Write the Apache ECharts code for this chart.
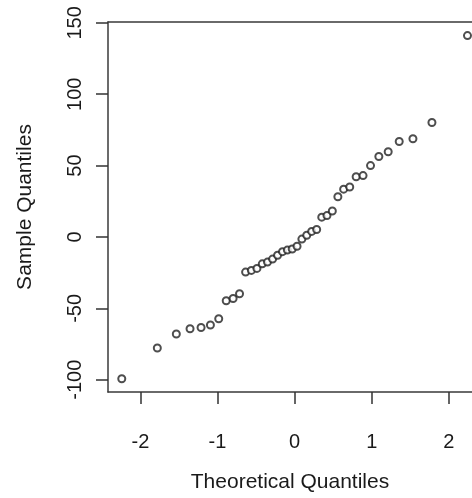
<!DOCTYPE html>
<html>
<head>
<meta charset="utf-8">
<script src="https://cdn.jsdelivr.net/npm/echarts@6/dist/echarts.min.js"></script>
<style>
  html, body { margin: 0; padding: 0; background: #fff; }
  #chart { width: 472px; height: 498px; }
</style>
</head>
<body>
<div id="chart"></div>
<script>
// theoretical normal quantiles (n = 40) and the sorted sample values
const theoQ = [
  -2.2414, -1.7805, -1.5341, -1.3562, -1.2133, -1.0920, -0.9842, -0.8871, -0.7977, -0.7144,
  -0.6357, -0.5607, -0.4888, -0.4193, -0.3518, -0.2858, -0.2211, -0.1573, -0.0941, -0.0313,
  0.0313, 0.0941, 0.1573, 0.2211, 0.2858, 0.3518, 0.4193, 0.4888, 0.5607, 0.6357,
  0.7144, 0.7977, 0.8871, 0.9842, 1.0920, 1.2133, 1.3562, 1.5341, 1.7805, 2.2414
];
const sampleQ = [
  -99.3, -77.8, -68.0, -64.3, -63.4, -61.7, -57.3, -44.7, -43.1, -39.8,
  -24.6, -23.4, -22.0, -18.8, -17.6, -15.5, -12.8, -10.3, -9.2, -8.4,
  -6.5, -1.5, 1.2, 3.9, 5.2, 13.9, 15.0, 18.2, 28.2, 33.5,
  35.0, 42.2, 43.0, 50.0, 56.4, 59.7, 66.9, 68.8, 80.2, 141.1
];
const xTicks = [-2, -1, 0, 1, 2];
const yTicks = [-100, -50, 0, 50, 100, 150];

const points = theoQ.map((q, i) => [q, sampleQ[i]]);
const textColor = '#1a1a1a';
const font = 'Liberation Sans, Arial, sans-serif';
const boxLine = { color: '#3a3a3a', width: 1.5 };

// the plot box runs past the right edge of the picture, so x max is where the canvas ends
const xMin = -2.42, xMax = 2.30;

const chart = echarts.init(document.getElementById('chart'));
chart.setOption({
  animation: false,
  grid: { left: 108, right: 0, top: 22, bottom: 105 },
  xAxis: [{
    type: 'value', min: xMin, max: xMax,
    splitLine: { show: false },
    axisLine: { show: true, onZero: false, lineStyle: boxLine },
    axisTick: { show: true, length: 12, customValues: xTicks, lineStyle: { color: '#333', width: 1.5 } },
    axisLabel: { customValues: xTicks, margin: 40, color: textColor, fontSize: 20, fontFamily: font },
    name: 'Theoretical Quantiles', nameLocation: 'middle', nameGap: 80,
    nameTextStyle: { color: textColor, fontSize: 21, fontFamily: font }
  }, {
    // top edge of the box
    type: 'value', position: 'top', min: xMin, max: xMax,
    splitLine: { show: false },
    axisLine: { show: true, onZero: false, lineStyle: boxLine },
    axisTick: { show: false },
    axisLabel: { show: false }
  }],
  yAxis: {
    type: 'value', min: -108.6, max: 150.6,
    splitLine: { show: false },
    axisLine: { show: true, onZero: false, lineStyle: boxLine },
    axisTick: { show: true, length: 12, customValues: yTicks, lineStyle: { color: '#333', width: 1.5 } },
    axisLabel: { customValues: yTicks, rotate: 90, margin: 23, color: textColor, fontSize: 20, fontFamily: font },
    name: 'Sample Quantiles', nameLocation: 'middle', nameGap: 72, nameRotate: 90,
    nameTextStyle: { color: textColor, fontSize: 21, fontFamily: font }
  },
  series: [{
    type: 'scatter',
    data: points,
    symbol: 'emptyCircle',
    symbolSize: 7,
    itemStyle: { color: '#222', borderColor: '#222', borderWidth: 1.5 }
  }]
});
</script>
</body>
</html>
